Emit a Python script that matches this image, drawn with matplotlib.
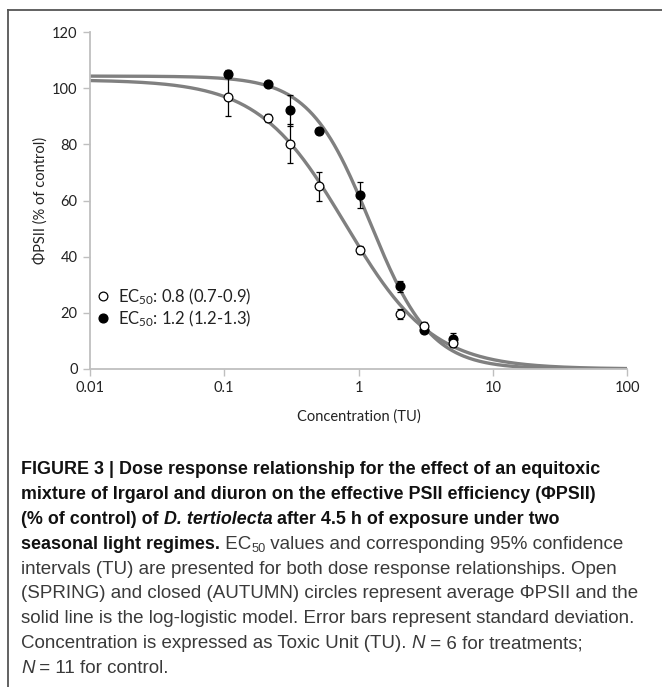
import numpy as np
import matplotlib
matplotlib.use("Agg")
import matplotlib.pyplot as plt
from matplotlib import font_manager
from matplotlib.lines import Line2D
from matplotlib.transforms import IdentityTransform
from matplotlib.ticker import FixedLocator, NullLocator

# --- data ------------------------------------------------------------------
conc_spring = [0.106, 0.211, 0.309, 0.51, 1.02, 2.05, 3.05, 5.1]
phi_spring = [97.0, 89.4, 80.2, 65.0, 42.3, 19.6, 15.4, 9.4]
sd_spring = [7.0, 1.5, 7.0, 5.0, 1.5, 1.8, 1.5, 1.5]

conc_autumn = [0.106, 0.211, 0.309, 0.51, 1.02, 2.05, 3.05, 5.1]
phi_autumn = [105.0, 101.4, 92.2, 84.7, 62.0, 29.4, 13.9, 10.7]
sd_autumn = [1.5, 1.0, 5.5, 1.0, 4.5, 2.0, 1.0, 2.2]

# log-logistic model parameters (top, EC50, slope)
fit_spring = (103.0, 0.8, 1.34)
fit_autumn = (104.3, 1.22, 1.92)

legend_labels = ["EC$_{50}$: 0.8 (0.7-0.9)", "EC$_{50}$: 1.2 (1.2-1.3)"]
xtick_values = [0.01, 0.1, 1, 10, 100]
xtick_labels = ["0.01", "0.1", "1", "10", "100"]
ytick_values = [0, 20, 40, 60, 80, 100, 120]

# caption: (text, weight, style, subscript)
caption = [
    [("FIGURE 3 | Dose response relationship for the effect of an equitoxic", "bold", "normal", False)],
    [("mixture of Irgarol and diuron on the effective PSII efficiency (\u03a6PSII)", "bold", "normal", False)],
    [("(% of control) of ", "bold", "normal", False), ("D. tertiolecta", "bold", "italic", False),
     (" after 4.5 h of exposure under two", "bold", "normal", False)],
    [("seasonal light regimes.", "bold", "normal", False), (" EC", "normal", "normal", False),
     ("50", "normal", "normal", True), (" values and corresponding 95% confidence", "normal", "normal", False)],
    [("intervals (TU) are presented for both dose response relationships. Open", "normal", "normal", False)],
    [("(SPRING) and closed (AUTUMN) circles represent average \u03a6PSII and the", "normal", "normal", False)],
    [("solid line is the log-logistic model. Error bars represent standard deviation.", "normal", "normal", False)],
    [("Concentration is expressed as Toxic Unit (TU). ", "normal", "normal", False), ("N", "normal", "italic", False),
     (" = 6 for treatments;", "normal", "normal", False)],
    [("N", "normal", "italic", False), (" = 11 for control.", "normal", "normal", False)],
]

names = {f.name for f in font_manager.fontManager.ttflist}
CAP_FONT = "Liberation Sans Narrow" if "Liberation Sans Narrow" in names else "Liberation Sans"
AX_FONT = ["Lato", "DejaVu Sans"]

plt.rcParams["font.family"] = AX_FONT
plt.rcParams["mathtext.fontset"] = "custom"
plt.rcParams["mathtext.rm"] = "Lato"
plt.rcParams["mathtext.it"] = "Lato:italic"

W, H = 662, 687
fig = plt.figure(figsize=(W / 100, H / 100), dpi=100)
ax = fig.add_axes([90 / W, 1 - 369 / H, (627 - 90) / W, (369 - 32) / H])

def loglogistic(x, top, ec50, slope):
    return top / (1 + (x / ec50) ** slope)

xs = np.logspace(-2, 2, 300)
ax.plot(xs, loglogistic(xs, *fit_spring), color="#808080", lw=2.4, zorder=2)
ax.plot(xs, loglogistic(xs, *fit_autumn), color="#808080", lw=2.4, zorder=2)

ax.errorbar(conc_spring, phi_spring, yerr=sd_spring, fmt="o", ms=6.3, mfc="white", mec="black",
            mew=0.9, ecolor="black", elinewidth=0.9, capsize=2.5, capthick=0.9, zorder=4)
ax.errorbar(conc_autumn, phi_autumn, yerr=sd_autumn, fmt="o", ms=6.3, mfc="black", mec="black",
            ecolor="black", elinewidth=0.9, capsize=2.5, capthick=0.9, zorder=3)

ax.set_xscale("log")
ax.set_xlim(0.01, 100)
ax.set_ylim(0, 120)
ax.xaxis.set_major_locator(FixedLocator(xtick_values))
ax.xaxis.set_minor_locator(NullLocator())
ax.set_xticklabels(xtick_labels)
ax.set_yticks(ytick_values)

for s in ["top", "right"]:
    ax.spines[s].set_visible(False)
for s in ["left", "bottom"]:
    ax.spines[s].set_color("#BFBFBF")
    ax.spines[s].set_linewidth(1.3)
ax.tick_params(axis="both", direction="out", length=5, width=1, color="#BFBFBF",
               labelsize=10.5, labelcolor="#222222", pad=4)

ax.set_xlabel("Concentration (TU)", fontsize=10.5, color="#222222", labelpad=10)
ax.set_ylabel("\u03a6PSII (% of control)", fontsize=10.5, color="#222222", labelpad=3)

handles = [Line2D([], [], ls="none", marker="o", ms=6.3, mfc="white", mec="black", mew=0.9),
           Line2D([], [], ls="none", marker="o", ms=6.3, mfc="black", mec="black")]
ax.legend(handles, legend_labels, loc="lower left", bbox_to_anchor=(0.0, 0.1), frameon=False,
          fontsize=12, handlelength=0.7, handletextpad=0.6, labelspacing=0.1,
          borderaxespad=0.0, labelcolor="#222222")

# frame lines round the figure panel
fig.add_artist(Line2D([8 / W, 1.0], [1 - 10 / H, 1 - 10 / H], color="#555555", lw=1.3))
fig.add_artist(Line2D([8 / W, 8 / W], [0.0, 1 - 10 / H], color="#555555", lw=1.3))

# caption, drawn piece by piece
renderer = fig.canvas.get_renderer()

def text_width(s, size, weight, style):
    t = fig.text(0, 0, s + "|", fontsize=size, fontweight=weight, fontstyle=style,
                 family=CAP_FONT, transform=IdentityTransform())
    b = fig.text(0, 0, "|", fontsize=size, fontweight=weight, fontstyle=style,
                 family=CAP_FONT, transform=IdentityTransform())
    w = t.get_window_extent(renderer).width - b.get_window_extent(renderer).width
    t.remove()
    b.remove()
    return w

# fit sizes so the lines span the same width as in the reference
cap_size = 10 * 616 / text_width(caption[6][0][0], 10, "normal", "normal")
bold_size = 10 * 577 / text_width(caption[0][0][0], 10, "bold", "normal")

x0 = 21
y_first = 474
line_gap = 24.9
for i, line in enumerate(caption):
    x = x0
    y = H - (y_first + i * line_gap)
    for txt, weight, style, sub in line:
        base = bold_size if weight == "bold" else cap_size
        size = base * (0.68 if sub else 1.0)
        yy = y - (base * 0.25 if sub else 0)
        color = "#111111" if weight == "bold" else "#3a3a3a"
        fig.text(x, yy, txt, fontsize=size, fontweight=weight, fontstyle=style,
                 family=CAP_FONT, color=color, transform=IdentityTransform(), va="baseline")
        x += text_width(txt, size, weight, style)

fig.savefig("out.png", dpi=100)
